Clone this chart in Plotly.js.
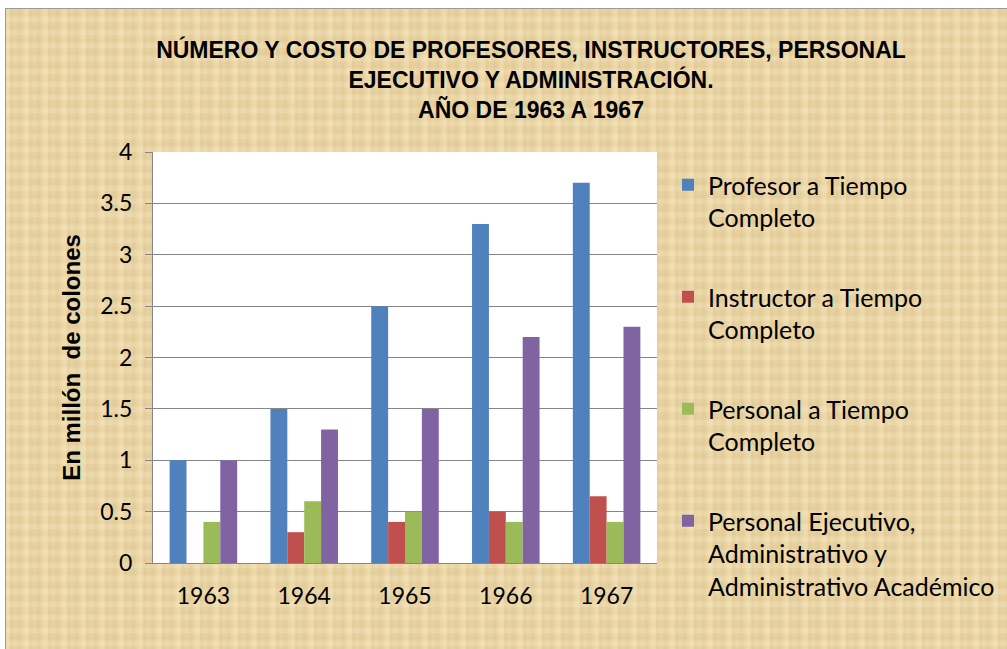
<!DOCTYPE html>
<html><head><meta charset="utf-8">
<script src="https://cdn.plot.ly/plotly-3.0.1.min.js"></script>
<style>
html,body{margin:0;padding:0;background:#fff;width:1007px;height:649px;overflow:hidden;}
#bg{position:absolute;left:5px;top:8px;width:1010px;height:650px;border:1px solid #9a9a9a;
background-color:#e9d4a4;
background-image:
repeating-linear-gradient(90deg, rgba(255,240,200,0.25) 0px, rgba(255,240,200,0.25) 3px, rgba(190,160,100,0.12) 5px, rgba(255,240,200,0.0) 9px, rgba(200,170,110,0.15) 14px, rgba(255,240,200,0.2) 19px),
repeating-linear-gradient(0deg, rgba(255,245,215,0.18) 0px, rgba(255,245,215,0.18) 4px, rgba(195,165,105,0.10) 7px, rgba(255,245,215,0.0) 13px);
}
#chart{position:absolute;left:0;top:0;width:1007px;height:649px;}
</style></head>
<body>
<div id="bg"></div>
<div id="chart"></div>
<script>
const years = ['1963','1964','1965','1966','1967'];
const seriesNames = ['Profesor a Tiempo<br>Completo','Instructor a Tiempo<br>Completo','Personal a Tiempo<br>Completo','Personal Ejecutivo,<br>Administrativo y<br>Administrativo Académico'];
const profesor = [1, 1.5, 2.5, 3.3, 3.7];
const instructor = [0, 0.3, 0.4, 0.5, 0.65];
const personal = [0.4, 0.6, 0.5, 0.4, 0.4];
const ejecutivo = [1, 1.3, 1.5, 2.2, 2.3];
const colors = ['#4f81bd','#c0504d','#9bbb59','#8064a2'];
const yTicks = [0,0.5,1,1.5,2,2.5,3,3.5,4];
const yTickText = ['0','0.5','1','1.5','2','2.5','3','3.5','4'];

const values = [profesor, instructor, personal, ejecutivo];
const traces = values.map((v,i)=>({
  type:'bar', x:years, y:v, name:seriesNames[i], legendgroup:'g'+i,
  marker:{color:colors[i], line:{width:0}}, hoverinfo:'x+y'
}));

const layout = {
  width:1007, height:649,
  paper_bgcolor:'rgba(0,0,0,0)', plot_bgcolor:'#ffffff',
  margin:{l:153, r:350, t:152, b:86, pad:0},
  bargap:0.33, bargroupgap:0,
  font:{family:'Lato, "Liberation Sans", sans-serif', color:'#000'},
  title:{text:'<b>NÚMERO Y COSTO DE PROFESORES, INSTRUCTORES, PERSONAL<br>EJECUTIVO Y ADMINISTRACIÓN.<br>AÑO DE 1963 A 1967</b>',
    font:{family:'"Liberation Sans", Arial, sans-serif', size:23, color:'#000'},
    x:531/1007, xanchor:'center', xref:'container', y:1-58/649, yref:'container', yanchor:'top'},
  xaxis:{type:'category', showgrid:false, showline:true, linecolor:'#868686', linewidth:1,
    ticks:'', tickfont:{size:23}, ticklabelstandoff:12, zeroline:false},
  yaxis:{range:[0,4], tickvals:yTicks, ticktext:yTickText, showgrid:true, gridcolor:'#868686', gridwidth:1,
    showline:true, linecolor:'#868686', ticks:'outside', ticklen:7, tickcolor:'#868686',
    tickfont:{size:23}, ticklabelstandoff:8, zeroline:false,
    title:{text:'<b>En millón&nbsp; de colones</b>', font:{family:'"Liberation Sans", Arial, sans-serif', size:24}, standoff:12}},
  legend:{xref:'container', yref:'container', x:668/1007, y:1-162/649, xanchor:'left', yanchor:'top',
    bgcolor:'rgba(0,0,0,0)', font:{size:25}, valign:'top', tracegroupgap:44, traceorder:'grouped', maxheight:640},
  showlegend:true
};
Plotly.newPlot('chart', traces, layout, {displayModeBar:false, staticPlot:true});
</script>
</body></html>
